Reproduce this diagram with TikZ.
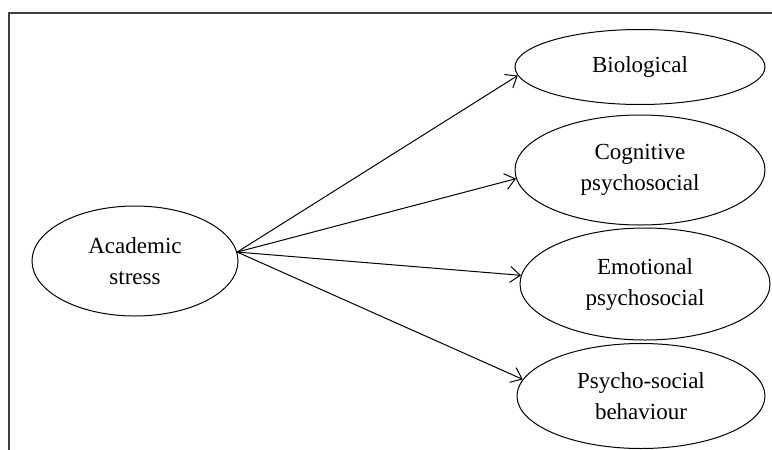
\documentclass[tikz,border=0pt]{standalone}
\usepackage{fontspec}
\setmainfont{Liberation Serif}
\usetikzlibrary{shapes.geometric,arrows.meta}

\begin{document}
\begin{tikzpicture}[x=0.5pt,y=-0.5pt]
                        \tikzset{Factor/.style={%
                                shape=ellipse,%
                                draw=black,%
                                line width=0.5pt,%
                                inner sep=0pt,%
                                align=center,%
                                font=\fontsize{11.5}{15.5}\selectfont,%
                                minimum width=125pt,%
                            }}
                        \useasboundingbox (0,0) rectangle (772,450);
                        \draw[line width=0.9pt, black!75] (772,13) -- (9,13) -- (9,450);

                        \node[Factor, minimum width=103pt, minimum height=55pt] (stress) at (135,261) {Academic\\stress};
                        \node[Factor, minimum height=37.5pt] (bio) at (640,67) {Biological};
                        \node[Factor, minimum height=55pt] (cog) at (640,170) {Cognitive\\psychosocial};
                        \node[Factor, minimum height=56pt] (emo) at (645,284) {Emotional\\psychosocial};
                        \node[Factor, minimum width=124pt, minimum height=52.5pt] (beh) at (641,396) {Psycho-social\\behaviour};

                        \path (stress.5) edge[-{Straight Barb[length=5pt,width=8pt]},line width=0.5pt] (bio.184);
                        \path (stress.5) edge[-{Straight Barb[length=5pt,width=8pt]},line width=0.5pt] (cog.184);
                        \path (stress.5) edge[-{Straight Barb[length=5pt,width=8pt]},line width=0.5pt] (emo.176);
                        \path (stress.5) edge[-{Straight Barb[length=5pt,width=8pt]},line width=0.5pt] (beh.172);
\end{tikzpicture}
\end{document}
